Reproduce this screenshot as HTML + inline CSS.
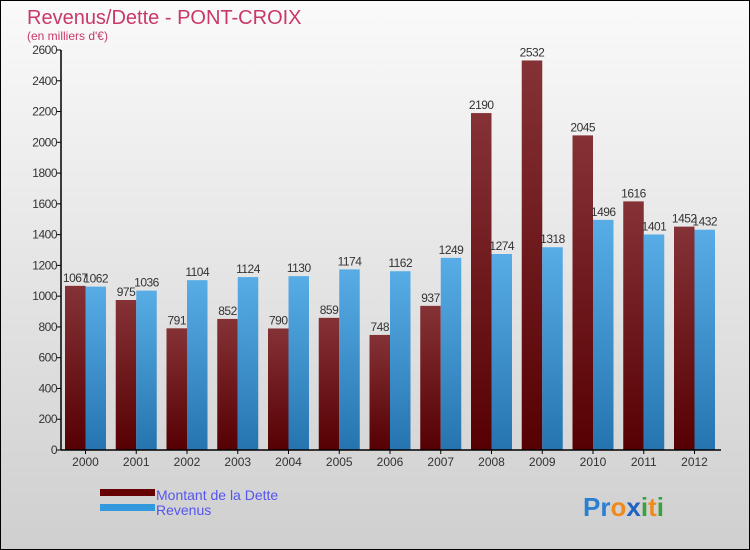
<!DOCTYPE html>
<html><head><meta charset="utf-8"><style>
html,body{margin:0;padding:0;}
body{width:750px;height:550px;overflow:hidden;font-family:"Liberation Sans",sans-serif;}
#wrap{position:relative;width:748px;height:548px;border:1px solid #000;background:linear-gradient(#fafafa,#cfcfcf);}
svg{position:absolute;left:0;top:0;}
</style></head><body>
<div id="wrap">
<svg id="chart" width="748" height="548">
<defs>
<linearGradient id="gd" x1="0" y1="0" x2="0" y2="1"><stop offset="0" stop-color="#853236"/><stop offset="1" stop-color="#560003"/></linearGradient>
<linearGradient id="gr" x1="0" y1="0" x2="0" y2="1"><stop offset="0" stop-color="#58ade6"/><stop offset="1" stop-color="#2574b0"/></linearGradient>
</defs>
<text x="26" y="23" font-size="20" fill="#c8386a">Revenus/Dette - PONT-CROIX</text>
<text x="26" y="39" font-size="12" fill="#c8386a">(en milliers d'€)</text>
<g id="bars"></g>
<g id="axes"></g>
<rect x="99" y="488" width="55" height="7" fill="#650003"/>
<rect x="99" y="503" width="55" height="7" fill="#3399dd"/>
<text x="155" y="499" font-size="14" fill="#5555ee">Montant de la Dette</text>
<text x="155" y="514" font-size="14" fill="#5555ee">Revenus</text>
<text x="582" y="515" font-size="26" font-weight="bold"><tspan fill="#2a7fd0">Pr</tspan><tspan fill="#f08a1c">o</tspan><tspan fill="#1f62c0">x</tspan><tspan fill="#3aa040">i</tspan><tspan fill="#f08a1c">t</tspan><tspan fill="#3aa040">i</tspan></text>
</svg>
</div>
<script>
const years=["2000","2001","2002","2003","2004","2005","2006","2007","2008","2009","2010","2011","2012"];
const dette=[1067,975,791,852,790,859,748,937,2190,2532,2045,1616,1452];
const revenus=[1062,1036,1104,1124,1130,1174,1162,1249,1274,1318,1496,1401,1432];
const yTicks=[0,200,400,600,800,1000,1200,1400,1600,1800,2000,2200,2400,2600];
const NS="http://www.w3.org/2000/svg";
const x0=64,step=50.75,bw=20.5,yBase=449,yTop=49,yMax=2600;
const y=v=>yBase-(v/yMax)*(yBase-yTop);
const bars=document.getElementById('bars'),axes=document.getElementById('axes');
function mk(tag,attrs,parent){const e=document.createElementNS(NS,tag);for(const k in attrs)e.setAttribute(k,attrs[k]);parent.appendChild(e);return e;}
years.forEach((yr,i)=>{
  const gx=x0+i*step;
  const r1=mk('rect',{x:gx,y:y(dette[i]),width:bw,height:yBase-y(dette[i]),fill:'url(#gd)'},bars);
  
  
  const r2=mk('rect',{x:gx+bw,y:y(revenus[i]),width:bw,height:yBase-y(revenus[i]),fill:'url(#gr)'},bars);
  
  
  const t1=mk('text',{x:gx+bw/2,y:y(dette[i])-4,'font-size':12,'text-anchor':'middle',fill:'#333','letter-spacing':'-0.5'},bars);
  t1.textContent=dette[i];
  
  
  const t2=mk('text',{x:gx+bw*1.5,y:y(revenus[i])-4,'font-size':12,'text-anchor':'middle',fill:'#333','letter-spacing':'-0.5'},bars);
  t2.textContent=revenus[i];
  
  
  const xl=mk('text',{x:gx+bw,y:yBase+16,'font-size':12,'text-anchor':'middle',fill:'#333'},axes);
  xl.textContent=yr;
  
  
  mk('line',{x1:gx+bw,x2:gx+bw,y1:yBase,y2:yBase+4,stroke:'#000'},axes);
});
yTicks.forEach(v=>{
  mk('line',{x1:56,x2:60,y1:y(v),y2:y(v),stroke:'#000'},axes);
  const t=mk('text',{x:56,y:y(v)+4,'font-size':12,'text-anchor':'end',fill:'#333','letter-spacing':'-0.5'},axes);
  t.textContent=v;
  
  
});
const ya=mk('line',{x1:60,x2:60,y1:yTop,y2:yBase,stroke:'#000','stroke-width':1.5},axes);


const xa=mk('line',{x1:60,x2:720,y1:yBase,y2:yBase,stroke:'#000','stroke-width':1.5},axes);


</script>
</body></html>
